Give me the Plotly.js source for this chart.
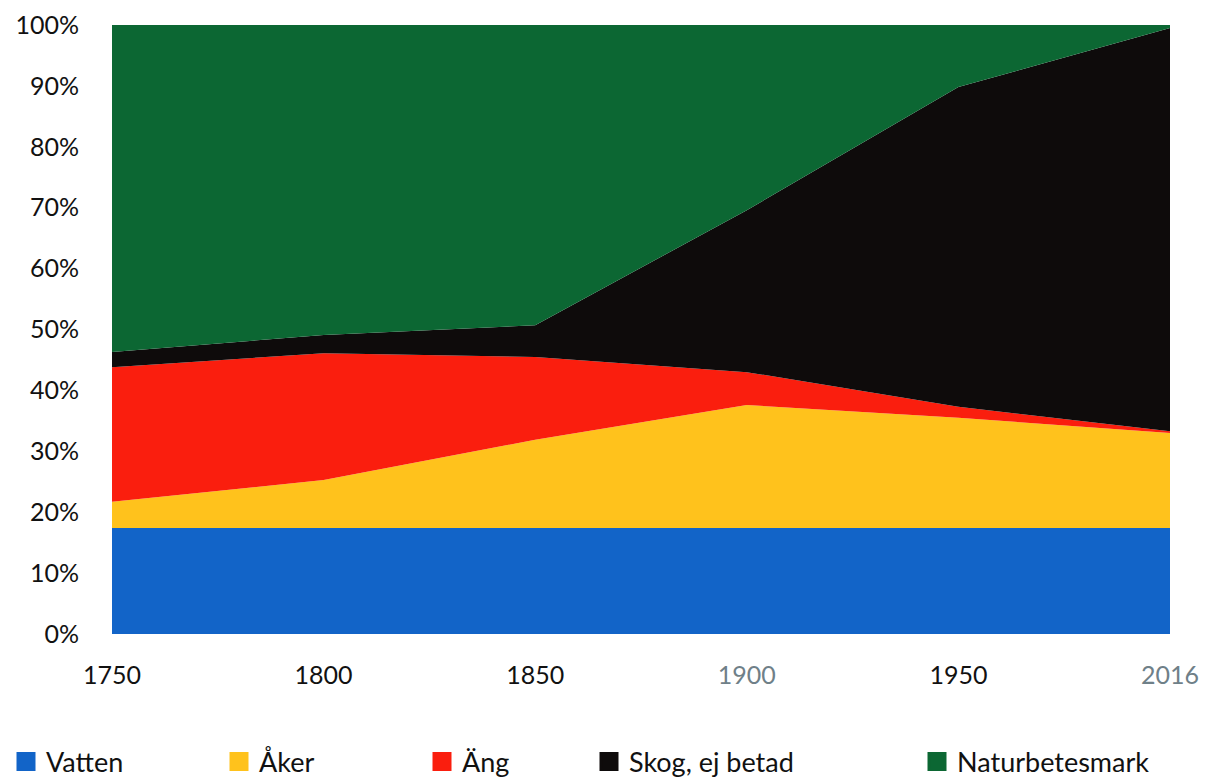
<!DOCTYPE html>
<html>
<head>
<meta charset="utf-8">
<script src="https://cdn.plot.ly/plotly-3.0.1.min.js"></script>
<style>html,body{margin:0;padding:0;background:#fff;}#chart{width:1216px;height:780px;}</style>
</head>
<body>
<div id="chart"></div>
<script>
const years = ['1750', '1800', '1850', '1900', '1950', '2016'];
const yearLabels = ['1750', '1800', '1850', '<span style="color:#6f8088">1900</span>', '1950', '<span style="color:#6f8088">2016</span>'];
const vatten = [17.4, 17.4, 17.4, 17.4, 17.4, 17.4];
const aker = [4.3, 7.9, 14.5, 20.2, 18.1, 15.6];
const ang = [22.1, 20.8, 13.6, 5.4, 1.8, 0.3];
const skog = [2.5, 3.0, 5.2, 26.6, 52.5, 66.2];
const naturbete = [53.7, 50.9, 49.3, 30.4, 10.2, 0.5];
const yTicks = [0, 10, 20, 30, 40, 50, 60, 70, 80, 90, 100];
const yTickLabels = ['0%', '10%', '20%', '30%', '40%', '50%', '60%', '70%', '80%', '90%', '100%'];
const seriesNames = ['Vatten', 'Åker', 'Äng', 'Skog, ej betad', 'Naturbetesmark'];
const seriesValues = [vatten, aker, ang, skog, naturbete];
const seriesColors = ['#1264c8', '#ffc21c', '#fa1e0e', '#0e0b0b', '#0c6733'];
const legendX = [6, 219, 422, 589, 917];

const traces = [];
seriesNames.forEach((name, i) => {
  traces.push({
    type: 'scatter',
    mode: 'lines',
    x: years,
    y: seriesValues[i],
    name: name,
    stackgroup: 'one',
    groupnorm: 'percent',
    line: {width: 0, color: seriesColors[i]},
    fillcolor: seriesColors[i],
    showlegend: false,
    legendgroup: name
  });
});
// legend entries (square swatches), one legend per entry so they can be spaced like the original
seriesNames.forEach((name, i) => {
  traces.push({
    type: 'scatter',
    mode: 'markers',
    x: [null],
    y: [null],
    name: name,
    marker: {symbol: 'square', size: 16, color: seriesColors[i], line: {width: 3, color: seriesColors[i]}},
    showlegend: true,
    legendgroup: name,
    legend: i === 0 ? 'legend' : 'legend' + (i + 1)
  });
});

const layout = {
  width: 1216,
  height: 780,
  margin: {l: 112, r: 46, t: 25, b: 146},
  paper_bgcolor: '#ffffff',
  plot_bgcolor: '#ffffff',
  font: {family: 'Lato, "Open Sans", sans-serif', size: 25, color: '#111'},
  showlegend: true,
  xaxis: {
    type: 'category',
    tickvals: years,
    ticktext: yearLabels,
    range: [0, 5],
    showgrid: false,
    zeroline: false,
    showline: false,
    ticks: '',
    ticklabelstandoff: 24,
    automargin: false,
    fixedrange: true
  },
  yaxis: {
    range: [0, 100],
    tickvals: yTicks,
    ticktext: yTickLabels,
    showgrid: false,
    zeroline: false,
    showline: false,
    ticks: '',
    ticklabelstandoff: 32,
    automargin: false,
    fixedrange: true
  }
};
seriesNames.forEach((name, i) => {
  const key = i === 0 ? 'legend' : 'legend' + (i + 1);
  layout[key] = {
    xref: 'container', yref: 'container',
    x: legendX[i] / 1216, xanchor: 'left',
    y: 18 / 780, yanchor: 'middle',
    orientation: 'h',
    bgcolor: 'rgba(0,0,0,0)',
    borderwidth: 0,
    font: {size: 27, color: '#111'}
  };
});

Plotly.newPlot('chart', traces, layout, {displayModeBar: false, staticPlot: true});
</script>
</body>
</html>
